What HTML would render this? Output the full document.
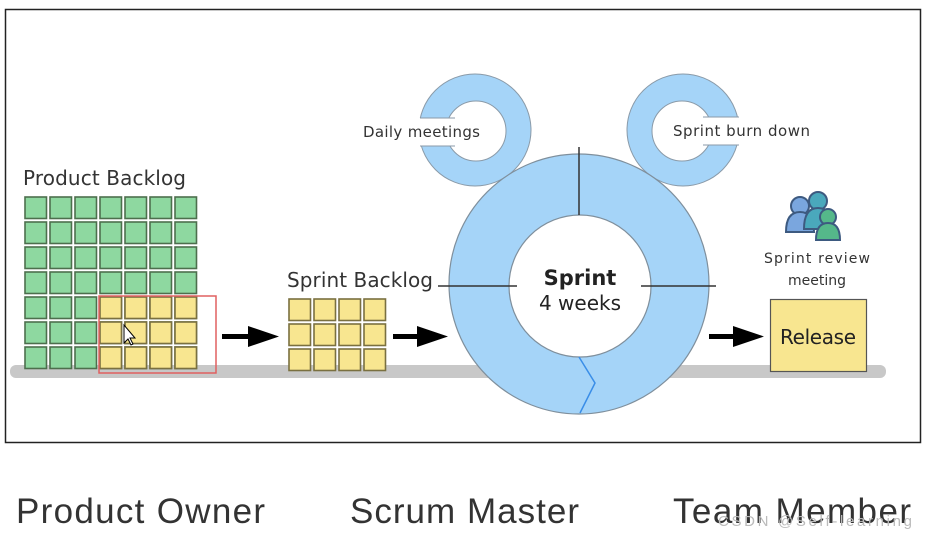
<!DOCTYPE html>
<html><head><meta charset="utf-8"><style>
html,body{margin:0;padding:0;background:#fff;}
svg{display:block;}
text{font-family:"DejaVu Sans","Liberation Sans",sans-serif;}
</style></head><body>
<svg width="927" height="540" viewBox="0 0 927 540" xmlns="http://www.w3.org/2000/svg">
<defs>
<pattern id="g" x="24" y="196" width="25" height="25" patternUnits="userSpaceOnUse">
<rect x="1" y="1" width="21.5" height="21.5" fill="#8ed8a0" stroke="#4d6f4d" stroke-width="1.6"/>
</pattern>
<pattern id="y" x="99" y="296" width="25" height="25" patternUnits="userSpaceOnUse">
<rect x="1" y="1" width="21.5" height="21.5" fill="#f8e690" stroke="#7a7040" stroke-width="1.6"/>
</pattern>
<pattern id="y2" x="288" y="298" width="25" height="25" patternUnits="userSpaceOnUse">
<rect x="1" y="1" width="21.5" height="21.5" fill="#f8e690" stroke="#7a7040" stroke-width="1.6"/>
</pattern>
</defs>
<rect x="5.5" y="9.5" width="915" height="433" fill="#fff" stroke="#222" stroke-width="1.5"/>
<rect x="10" y="365" width="876" height="13" rx="6" fill="#c8c8c8"/>
<text x="23" y="185" font-size="20" fill="#333" textLength="163">Product Backlog</text>
<rect x="24" y="196" width="175" height="175" fill="url(#g)"/>
<rect x="99" y="296" width="100" height="75" fill="url(#y)"/>
<rect x="99" y="296" width="117" height="77" fill="none" stroke="#e06060" stroke-width="1.5"/>
<path d="M124 325 l0 18 l4 -4 l3 6 l2 -1 l-3 -6 l5 0 z" fill="#fff" stroke="#000" stroke-width="1"/>
<g fill="#000">
<rect x="222" y="334" width="30" height="5"/><path d="M248 326 L279 336.5 L248 347 Z"/>
<rect x="393" y="334" width="28" height="5"/><path d="M417 326 L448 336.5 L417 347 Z"/>
<rect x="709" y="334" width="28" height="5"/><path d="M733 326 L764 336.5 L733 347 Z"/>
</g>
<text x="287" y="287" font-size="20" fill="#333" textLength="146">Sprint Backlog</text>
<rect x="288" y="298" width="100" height="75" fill="url(#y2)"/>
<circle cx="475" cy="130" r="56" fill="#a5d4f8" stroke="#8a9aa8" stroke-width="1"/>
<circle cx="476" cy="131" r="30" fill="#fff" stroke="#8a9aa8" stroke-width="1"/>
<rect x="415" y="118" width="50" height="28" fill="#fff"/>
<line x1="420" y1="118" x2="455" y2="118" stroke="#8a9aa8"/>
<line x1="420" y1="146" x2="455" y2="146" stroke="#8a9aa8"/>
<text x="363" y="137" font-size="15" fill="#333" textLength="117">Daily meetings</text>
<circle cx="683" cy="130" r="56" fill="#a5d4f8" stroke="#8a9aa8" stroke-width="1"/>
<circle cx="682" cy="131" r="30" fill="#fff" stroke="#8a9aa8" stroke-width="1"/>
<rect x="693" y="117" width="50" height="28" fill="#fff"/>
<line x1="703" y1="117" x2="739" y2="117" stroke="#8a9aa8"/>
<line x1="703" y1="145" x2="739" y2="145" stroke="#8a9aa8"/>
<text x="673" y="136" font-size="15" fill="#333" textLength="137">Sprint burn down</text>
<circle cx="579" cy="284" r="130" fill="#a5d4f8" stroke="#7f8f9c" stroke-width="1.2"/>
<circle cx="580" cy="286" r="71" fill="#fff" stroke="#7f8f9c" stroke-width="1.2"/>
<g stroke="#333" stroke-width="1.5">
<line x1="579" y1="147" x2="579" y2="215"/>
<line x1="438" y1="286" x2="517" y2="286"/>
<line x1="641" y1="286" x2="716" y2="286"/>
</g>
<path d="M579 357 L595 383 L580 413" fill="none" stroke="#3a8ee8" stroke-width="1.5"/>
<text x="580" y="285" font-size="21" fill="#222" text-anchor="middle" font-weight="bold">Sprint</text>
<text x="580" y="310" font-size="20" fill="#222" text-anchor="middle">4 weeks</text>
<g stroke="#3d5a80" stroke-width="2">
<circle cx="800" cy="206" r="9" fill="#7aa6de"/>
<path d="M786 232 q0 -20 14 -20 q14 0 14 20 z" fill="#7aa6de"/>
<circle cx="818" cy="201" r="9" fill="#4aa8bc"/>
<path d="M804 229 q0 -21 14 -21 q14 0 14 21 z" fill="#4aa8bc"/>
<circle cx="828" cy="217" r="8" fill="#55b88a"/>
<path d="M816 240 q0 -17 12 -17 q12 0 12 17 z" fill="#55b88a"/>
</g>
<text x="817" y="263" font-size="14" fill="#333" text-anchor="middle" textLength="106">Sprint review</text>
<text x="817" y="285" font-size="14" fill="#333" text-anchor="middle">meeting</text>
<rect x="770.5" y="299.5" width="96" height="72" fill="#f8e690" stroke="#555" stroke-width="1.2"/>
<text x="818" y="344" font-size="20" fill="#222" text-anchor="middle" textLength="76">Release</text>
<text x="16" y="523" font-size="35" fill="#333" textLength="249" style="font-family:'Liberation Sans',sans-serif">Product Owner</text>
<text x="350" y="523" font-size="35" fill="#333" textLength="229" style="font-family:'Liberation Sans',sans-serif">Scrum Master</text>
<text x="673" y="523" font-size="35" fill="#333" textLength="238" style="font-family:'Liberation Sans',sans-serif">Team Member</text>
<text x="718" y="526" font-size="15" fill="#bbb" textLength="194" style="font-family:'Liberation Sans',sans-serif">CSDN @Self-learning</text>
</svg>
</body></html>
